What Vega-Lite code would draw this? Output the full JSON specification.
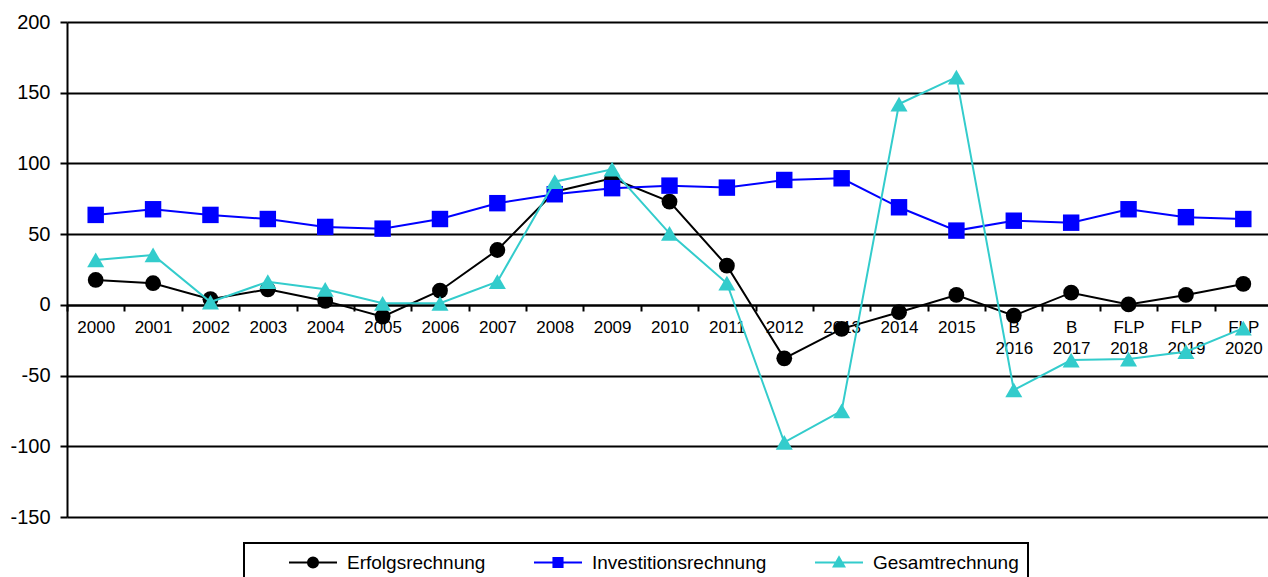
{
  "$schema": "https://vega.github.io/schema/vega-lite/v6.json",
  "width": 1201,
  "height": 495,
  "autosize": {"type": "none"},
  "padding": {"left": 67, "top": 22, "right": 0, "bottom": 60},
  "background": "white",
  "config": {"view": {"stroke": null}, "font": "Liberation Sans"},
  "data": {
    "values": [
      {"period": "2000", "series": "Erfolgsrechnung", "value": 17.6},
      {"period": "2001", "series": "Erfolgsrechnung", "value": 15.3},
      {"period": "2002", "series": "Erfolgsrechnung", "value": 4},
      {"period": "2003", "series": "Erfolgsrechnung", "value": 11},
      {"period": "2004", "series": "Erfolgsrechnung", "value": 2.8},
      {"period": "2005", "series": "Erfolgsrechnung", "value": -8.3},
      {"period": "2006", "series": "Erfolgsrechnung", "value": 10},
      {"period": "2007", "series": "Erfolgsrechnung", "value": 38.8},
      {"period": "2008", "series": "Erfolgsrechnung", "value": 80},
      {"period": "2009", "series": "Erfolgsrechnung", "value": 89.5},
      {"period": "2010", "series": "Erfolgsrechnung", "value": 73},
      {"period": "2011", "series": "Erfolgsrechnung", "value": 27.7},
      {"period": "2012", "series": "Erfolgsrechnung", "value": -37.8},
      {"period": "2013", "series": "Erfolgsrechnung", "value": -17},
      {"period": "2014", "series": "Erfolgsrechnung", "value": -5.2},
      {"period": "2015", "series": "Erfolgsrechnung", "value": 7},
      {"period": "B 2016", "series": "Erfolgsrechnung", "value": -7.6},
      {"period": "B 2017", "series": "Erfolgsrechnung", "value": 8.6},
      {"period": "FLP 2018", "series": "Erfolgsrechnung", "value": 0.3},
      {"period": "FLP 2019", "series": "Erfolgsrechnung", "value": 7},
      {"period": "FLP 2020", "series": "Erfolgsrechnung", "value": 14.8},
      {"period": "2000", "series": "Investitionsrechnung", "value": 63.6},
      {"period": "2001", "series": "Investitionsrechnung", "value": 67.6},
      {"period": "2002", "series": "Investitionsrechnung", "value": 63.6},
      {"period": "2003", "series": "Investitionsrechnung", "value": 60.7},
      {"period": "2004", "series": "Investitionsrechnung", "value": 55.1},
      {"period": "2005", "series": "Investitionsrechnung", "value": 53.9},
      {"period": "2006", "series": "Investitionsrechnung", "value": 60.7},
      {"period": "2007", "series": "Investitionsrechnung", "value": 71.9},
      {"period": "2008", "series": "Investitionsrechnung", "value": 78.2},
      {"period": "2009", "series": "Investitionsrechnung", "value": 82.5},
      {"period": "2010", "series": "Investitionsrechnung", "value": 84.3},
      {"period": "2011", "series": "Investitionsrechnung", "value": 82.9},
      {"period": "2012", "series": "Investitionsrechnung", "value": 88.3},
      {"period": "2013", "series": "Investitionsrechnung", "value": 89.5},
      {"period": "2014", "series": "Investitionsrechnung", "value": 69},
      {"period": "2015", "series": "Investitionsrechnung", "value": 52.5},
      {"period": "B 2016", "series": "Investitionsrechnung", "value": 59.5},
      {"period": "B 2017", "series": "Investitionsrechnung", "value": 58.1},
      {"period": "FLP 2018", "series": "Investitionsrechnung", "value": 67.6},
      {"period": "FLP 2019", "series": "Investitionsrechnung", "value": 62},
      {"period": "FLP 2020", "series": "Investitionsrechnung", "value": 60.7},
      {"period": "2000", "series": "Gesamtrechnung", "value": 31.8},
      {"period": "2001", "series": "Gesamtrechnung", "value": 35.3},
      {"period": "2002", "series": "Gesamtrechnung", "value": 2},
      {"period": "2003", "series": "Gesamtrechnung", "value": 16.4},
      {"period": "2004", "series": "Gesamtrechnung", "value": 11},
      {"period": "2005", "series": "Gesamtrechnung", "value": 1.1},
      {"period": "2006", "series": "Gesamtrechnung", "value": 1.1},
      {"period": "2007", "series": "Gesamtrechnung", "value": 16.4},
      {"period": "2008", "series": "Gesamtrechnung", "value": 87.1},
      {"period": "2009", "series": "Gesamtrechnung", "value": 95.9},
      {"period": "2010", "series": "Gesamtrechnung", "value": 50.6},
      {"period": "2011", "series": "Gesamtrechnung", "value": 15.3},
      {"period": "2012", "series": "Gesamtrechnung", "value": -97.2},
      {"period": "2013", "series": "Gesamtrechnung", "value": -75},
      {"period": "2014", "series": "Gesamtrechnung", "value": 142},
      {"period": "2015", "series": "Gesamtrechnung", "value": 161},
      {"period": "B 2016", "series": "Gesamtrechnung", "value": -60.2},
      {"period": "B 2017", "series": "Gesamtrechnung", "value": -39},
      {"period": "FLP 2018", "series": "Gesamtrechnung", "value": -38.3},
      {"period": "FLP 2019", "series": "Gesamtrechnung", "value": -33.1},
      {"period": "FLP 2020", "series": "Gesamtrechnung", "value": -16.5}
    ]
  },
  "encoding": {
    "x": {
      "field": "period",
      "type": "ordinal",
      "sort": null,
      "bandPosition": 0.5,
      "scale": {"type": "band", "paddingInner": 0, "paddingOuter": 0, "range": [0, 1205]},
      "axis": {
        "title": null,
        "orient": "bottom",
        "offset": -212,
        "grid": false,
        "domainColor": "#000000",
        "domainWidth": 2,
        "tickColor": "#000000",
        "tickWidth": 2,
        "tickSize": 6,
        "tickBand": "extent",
        "labelExpr": "split(datum.label, ' ')",
        "labelFont": "Liberation Sans",
        "labelFontSize": 17,
        "labelColor": "#000000",
        "labelPadding": 8,
        "labelLineHeight": 21.5,
        "labelBaseline": "top",
        "labelAngle": 0,
        "labelOverlap": false,
        "labelBound": false,
        "labelFlush": false
      }
    },
    "y": {
      "field": "value",
      "type": "quantitative",
      "scale": {"domain": [-150, 200], "nice": false, "zero": false},
      "axis": {
        "title": null,
        "values": [-150, -100, -50, 0, 50, 100, 150, 200],
        "labelExpr": "toString(datum.value)",
        "grid": true,
        "gridColor": "#000000",
        "gridWidth": 2,
        "gridOpacity": 1,
        "domainColor": "#000000",
        "domainWidth": 2,
        "tickColor": "#000000",
        "tickWidth": 2,
        "tickSize": 7,
        "labelFont": "Liberation Sans",
        "labelFontSize": 20,
        "labelColor": "#000000",
        "labelPadding": 10,
        "labelFlush": false,
        "labelBound": false
      }
    },
    "color": {
      "field": "series",
      "type": "nominal",
      "scale": {
        "domain": ["Erfolgsrechnung", "Investitionsrechnung", "Gesamtrechnung"],
        "range": ["#000000", "#0000FF", "#33CCCC"]
      },
      "legend": {
        "title": "\u00a0",
        "titleOrient": "left",
        "titleFontSize": 10,
        "titlePadding": 35,
        "orient": "none",
        "legendX": 177,
        "legendY": 521,
        "direction": "horizontal",
        "columns": 3,
        "padding": 9,
        "strokeColor": "#000000",
        "columnPadding": 47,
        "symbolSize": 2304,
        "symbolStrokeWidth": 2,
        "clipHeight": 21,
        "labelOffset": 9,
        "labelFont": "Liberation Sans",
        "labelFontSize": 19,
        "labelColor": "#000000",
        "labelLimit": 0,
        "encode": {
          "legend": {"update": {"strokeWidth": {"value": 2}}},
          "symbols": {
            "update": {
              "shape": {"signal": "datum.value === 'Erfolgsrechnung' ? 'M-1,0H-0.21A0.21,0.21 0 1,1 0.21,0A0.21,0.21 0 1,1 -0.21,0ZM0.21,0H1' : datum.value === 'Investitionsrechnung' ? 'M-1,0H1M-0.19,-0.19H0.19V0.19H-0.19Z' : 'M-1,0H1M0,-0.22L0.22,0.17H-0.22Z'"},
              "size": {"value": 2304},
              "fill": {"scale": "color", "field": "value"},
              "stroke": {"scale": "color", "field": "value"},
              "strokeWidth": {"value": 2},
              "opacity": {"value": 1},
              "fillOpacity": {"value": 1}
            }
          }
        }
      }
    }
  },
  "layer": [
    {
      "transform": [{"filter": "datum.series === 'Erfolgsrechnung'"}],
      "mark": {"type": "line", "strokeWidth": 2}
    },
    {
      "transform": [{"filter": "datum.series === 'Erfolgsrechnung'"}],
      "mark": {"type": "point", "shape": "circle", "filled": true, "size": 250, "opacity": 1}
    },
    {
      "transform": [{"filter": "datum.series === 'Investitionsrechnung'"}],
      "mark": {"type": "line", "strokeWidth": 2}
    },
    {
      "transform": [{"filter": "datum.series === 'Investitionsrechnung'"}],
      "mark": {"type": "point", "shape": "square", "filled": true, "size": 270, "opacity": 1}
    },
    {
      "transform": [{"filter": "datum.series === 'Gesamtrechnung'"}],
      "mark": {"type": "line", "strokeWidth": 2}
    },
    {
      "transform": [{"filter": "datum.series === 'Gesamtrechnung'"}],
      "mark": {"type": "point", "shape": "triangle-up", "filled": true, "size": 290, "opacity": 1}
    }
  ]
}
